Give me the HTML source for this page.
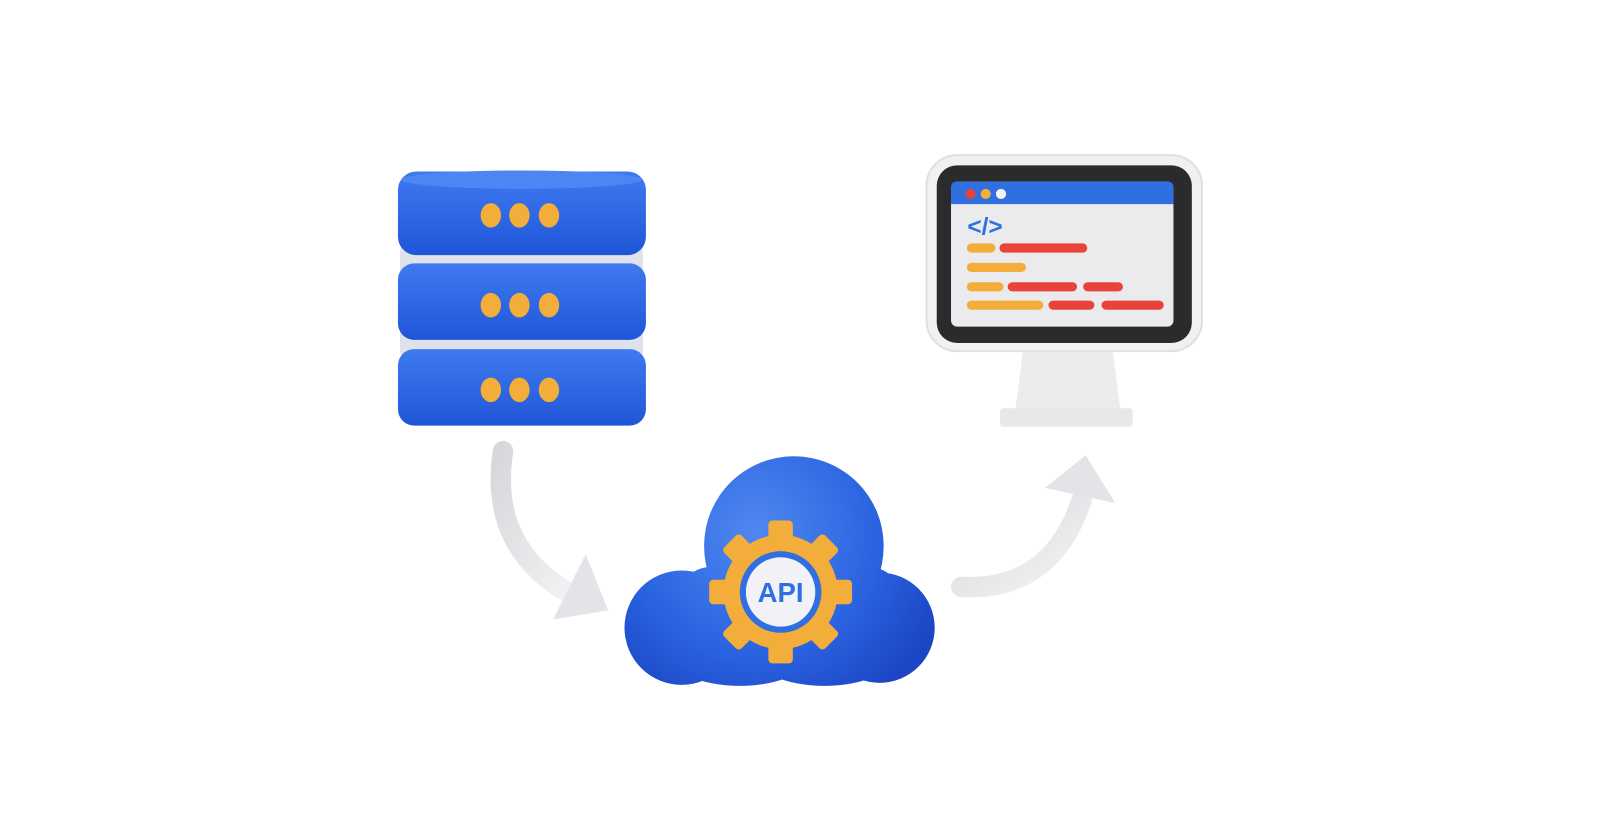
<!DOCTYPE html>
<html><head><meta charset="utf-8"><style>html,body{margin:0;padding:0;background:#fff;width:1600px;height:840px;overflow:hidden}svg{display:block}</style></head><body>
<svg width="1600" height="840" viewBox="0 0 1568 823" preserveAspectRatio="none" xmlns="http://www.w3.org/2000/svg">
<defs>
<linearGradient id="db" x1="0" y1="0" x2="0" y2="1"><stop offset="0" stop-color="#3f7af0"/><stop offset="1" stop-color="#1f56d8"/></linearGradient>
<radialGradient id="cl" gradientUnits="userSpaceOnUse" cx="740" cy="520" r="200"><stop offset="0" stop-color="#4f88f0"/><stop offset="0.6" stop-color="#2a63e0"/><stop offset="1" stop-color="#1b45c4"/></radialGradient>
<linearGradient id="arr" x1="0" y1="0" x2="1" y2="1"><stop offset="0" stop-color="#d8d8dc"/><stop offset="1" stop-color="#f4f4f6"/></linearGradient>
</defs>
<!-- database -->
<rect x="392" y="240" width="238" height="110" rx="6" fill="#dfe2ea"/>
<rect x="390" y="168" width="243" height="82" rx="18" fill="url(#db)"/>
<ellipse cx="511" cy="176" rx="118" ry="9" fill="#4d86f2"/>
<rect x="390" y="258" width="243" height="75" rx="16" fill="url(#db)"/>
<rect x="390" y="342" width="243" height="75" rx="16" fill="url(#db)"/>
<g fill="#f3ad3a">
<ellipse cx="481" cy="211" rx="10" ry="12"/><ellipse cx="509" cy="211" rx="10" ry="12"/><ellipse cx="538" cy="211" rx="10" ry="12"/>
<ellipse cx="481" cy="299" rx="10" ry="12"/><ellipse cx="509" cy="299" rx="10" ry="12"/><ellipse cx="538" cy="299" rx="10" ry="12"/>
<ellipse cx="481" cy="382" rx="10" ry="12"/><ellipse cx="509" cy="382" rx="10" ry="12"/><ellipse cx="538" cy="382" rx="10" ry="12"/>
</g>
<!-- monitor -->
<path d="M1003 340 L1090 340 L1098 402 L995 402 Z" fill="#ececee"/>
<rect x="980" y="400" width="130" height="18" rx="3" fill="#e8e8ea"/>
<rect x="908" y="152" width="270" height="192" rx="30" fill="#f1f1f2" stroke="#e0e0e2" stroke-width="2"/>
<rect x="918" y="162" width="250" height="174" rx="20" fill="#2b2b2d"/>
<rect x="932" y="178" width="218" height="142" rx="6" fill="#ebebee"/>
<path d="M932 200 L932 184 Q932 178 938 178 L1144 178 Q1150 178 1150 184 L1150 200 Z" fill="#2f6fe0"/>
<circle cx="951" cy="190" r="5" fill="#e8423a"/><circle cx="966" cy="190" r="5" fill="#f3ad3a"/><circle cx="981" cy="190" r="5" fill="#f4f4f4"/>
<text x="948" y="230" font-family="Liberation Sans, sans-serif" font-weight="bold" font-size="24" fill="#2f6fe0">&lt;/&gt;</text>
<g stroke-linecap="round" stroke-width="9">
<line x1="952" y1="243" x2="971" y2="243" stroke="#f3ad3a"/><line x1="984" y1="243" x2="1061" y2="243" stroke="#e8423a"/>
<line x1="952" y1="262" x2="1001" y2="262" stroke="#f3ad3a"/>
<line x1="952" y1="281" x2="979" y2="281" stroke="#f3ad3a"/><line x1="992" y1="281" x2="1051" y2="281" stroke="#e8423a"/><line x1="1066" y1="281" x2="1096" y2="281" stroke="#e8423a"/>
<line x1="952" y1="299" x2="1018" y2="299" stroke="#f3ad3a"/><line x1="1032" y1="299" x2="1068" y2="299" stroke="#e8423a"/><line x1="1084" y1="299" x2="1136" y2="299" stroke="#e8423a"/>
</g>
<!-- arrows -->
<path d="M493 442 Q478 540 565 585" fill="none" stroke="url(#arr)" stroke-width="20" stroke-linecap="round"/>
<polygon points="542,607 596,598 574,543" fill="#e4e4e8"/>
<path d="M942 575 Q1030 580 1060 490" fill="none" stroke="url(#arr)" stroke-width="20" stroke-linecap="round"/>
<polygon points="1024,478 1064,446 1093,493" fill="#e4e4e8"/>
<!-- cloud -->
<g fill="url(#cl)">
<circle cx="778" cy="535" r="88"/>
<circle cx="668" cy="615" r="56"/>
<circle cx="862" cy="615" r="54"/>
<ellipse cx="725" cy="640" rx="70" ry="32"/>
<ellipse cx="808" cy="640" rx="70" ry="32"/>
<rect x="668" y="560" width="194" height="90"/>
<ellipse cx="700" cy="575" rx="30" ry="20"/>
<ellipse cx="848" cy="575" rx="30" ry="20"/>
</g>
<!-- gear -->
<g transform="translate(765,580)" fill="#f3ad3a">
<circle r="56"/>
<g><rect x="-12" y="-70" width="24" height="24" rx="4"/><rect x="-12" y="46" width="24" height="24" rx="4"/><rect x="-70" y="-12" width="24" height="24" rx="4"/><rect x="46" y="-12" width="24" height="24" rx="4"/></g>
<g transform="rotate(45)"><rect x="-12" y="-70" width="24" height="24" rx="4"/><rect x="-12" y="46" width="24" height="24" rx="4"/><rect x="-70" y="-12" width="24" height="24" rx="4"/><rect x="46" y="-12" width="24" height="24" rx="4"/></g>
<circle r="40" fill="#2f6fe0"/>
<circle r="34" fill="#f2f2f6"/>
<text x="0" y="10" text-anchor="middle" font-family="Liberation Sans, sans-serif" font-weight="bold" font-size="27" fill="#2f6fe0">API</text>
</g>
</svg>
</body></html>
